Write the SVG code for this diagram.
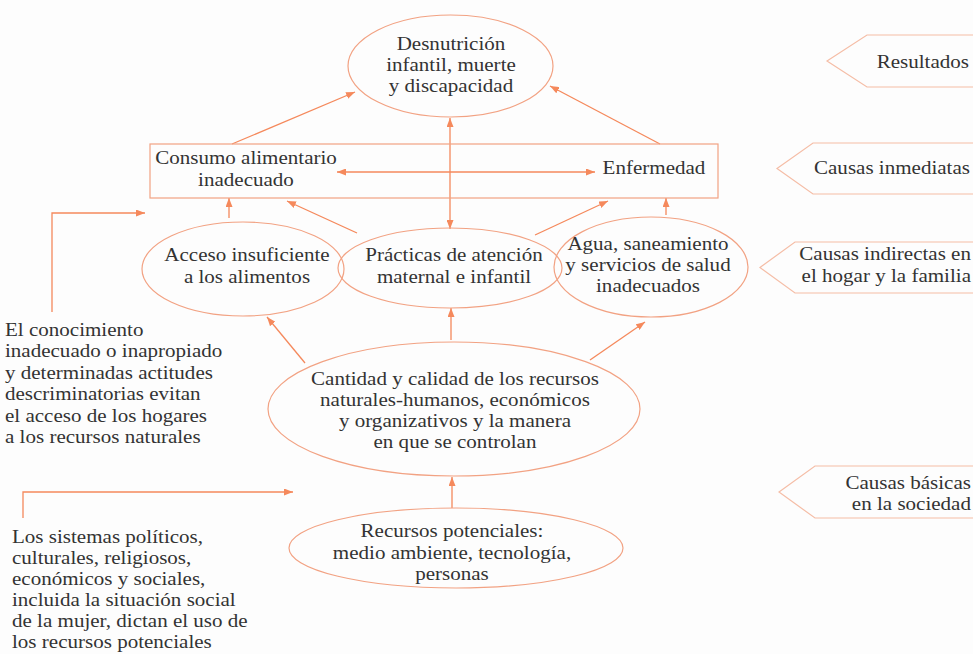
<svg xmlns="http://www.w3.org/2000/svg" width="973" height="654" viewBox="0 0 973 654">
<style>
text{font-family:"Liberation Serif","Times New Roman",serif;font-size:18.8px;fill:#333;transform-box:fill-box}
.c{text-anchor:middle;transform:scaleX(1.12);transform-origin:center}
.l{transform:scaleX(1.12);transform-origin:left center}
.r{text-anchor:end;transform:scaleX(1.12);transform-origin:right center}
.node{fill:none;stroke:#f2a283;stroke-width:1.2}
.tag{fill:none;stroke:#f5bda6;stroke-width:1.2}
.conn{fill:none;stroke:#f5895c;stroke-width:1.3}
</style>
<defs>
<marker id="ah" markerUnits="userSpaceOnUse" markerWidth="9" markerHeight="7" refX="9" refY="3.5" orient="auto-start-reverse">
<path d="M0,0 L9,3.5 L0,7 z" fill="#f5895c"/>
</marker>
</defs>
<rect width="973" height="654" fill="#fdfdfd"/>

<g id="connectors">
<path class="conn" d="M232,144 L355,92" marker-end="url(#ah)"/>
<path class="conn" d="M660,144 L550,86" marker-end="url(#ah)"/>
<path class="conn" d="M450,118 L450,229" marker-start="url(#ah)" marker-end="url(#ah)"/>
<path class="conn" d="M337,172 L595,172" marker-start="url(#ah)" marker-end="url(#ah)"/>
<path class="conn" d="M229,218 L229,198" marker-end="url(#ah)"/>
<path class="conn" d="M357,233 L287,201" marker-end="url(#ah)"/>
<path class="conn" d="M535,235 L608,201" marker-end="url(#ah)"/>
<path class="conn" d="M666,215 L666,198" marker-end="url(#ah)"/>
<path class="conn" d="M305,363 L267,317" marker-end="url(#ah)"/>
<path class="conn" d="M451,340 L451,308" marker-end="url(#ah)"/>
<path class="conn" d="M590,360 L645,322" marker-end="url(#ah)"/>
<path class="conn" d="M452,508 L452,477" marker-end="url(#ah)"/>
<path class="conn" d="M52,312 L52,213 L145,213" marker-end="url(#ah)"/>
<path class="conn" d="M23,518 L23,492 L293,492" marker-end="url(#ah)"/>
</g>

<g id="desnutricion">
<ellipse class="node" cx="450.5" cy="66" rx="102.5" ry="51"/>
<text class="c"><tspan x="451" y="50">Desnutrición</tspan><tspan x="451" y="71">infantil, muerte</tspan><tspan x="451" y="92">y discapacidad</tspan></text>
</g>

<g id="causas-inmediatas-box">
<rect class="node" x="150" y="144" width="568" height="54"/>
<text class="c"><tspan x="246" y="164">Consumo alimentario</tspan><tspan x="246" y="186">inadecuado</tspan></text>
<text class="c" x="654" y="174">Enfermedad</text>
</g>

<g id="acceso">
<ellipse class="node" cx="243" cy="269" rx="101" ry="47"/>
<text class="c"><tspan x="247" y="261">Acceso insuficiente</tspan><tspan x="247" y="283">a los alimentos</tspan></text>
</g>

<g id="practicas">
<ellipse class="node" cx="450" cy="268" rx="112" ry="40"/>
<text class="c"><tspan x="454" y="261">Prácticas de atención</tspan><tspan x="454" y="283">maternal e infantil</tspan></text>
</g>

<g id="agua">
<ellipse class="node" cx="651" cy="267" rx="97" ry="50"/>
<text class="c"><tspan x="648" y="250">Agua, saneamiento</tspan><tspan x="648" y="271">y servicios de salud</tspan><tspan x="648" y="292">inadecuados</tspan></text>
</g>

<g id="cantidad">
<ellipse class="node" cx="454" cy="409" rx="186" ry="67"/>
<text class="c"><tspan x="455" y="385">Cantidad y calidad de los recursos</tspan><tspan x="455" y="406">naturales-humanos, económicos</tspan><tspan x="455" y="427">y organizativos y la manera</tspan><tspan x="455" y="448">en que se controlan</tspan></text>
</g>

<g id="recursos">
<ellipse class="node" cx="456" cy="548" rx="167" ry="40"/>
<text class="c"><tspan x="452" y="537">Recursos potenciales:</tspan><tspan x="452" y="559">medio ambiente, tecnología,</tspan><tspan x="452" y="580">personas</tspan></text>
</g>

<g id="nota-conocimiento">
<text class="l"><tspan x="5" y="336">El conocimiento</tspan><tspan x="5" y="357.5">inadecuado o inapropiado</tspan><tspan x="5" y="379">y determinadas actitudes</tspan><tspan x="5" y="400.5">descriminatorias evitan</tspan><tspan x="5" y="422">el acceso de los hogares</tspan><tspan x="5" y="443.5">a los recursos naturales</tspan></text>
</g>

<g id="nota-sistemas">
<text class="l"><tspan x="12" y="543">Los sistemas políticos,</tspan><tspan x="12" y="564">culturales, religiosos,</tspan><tspan x="12" y="585">económicos y sociales,</tspan><tspan x="12" y="606">incluida la situación social</tspan><tspan x="12" y="627">de la mujer, dictan el uso de</tspan><tspan x="12" y="648">los recursos potenciales</tspan></text>
</g>

<g id="tag-resultados">
<path class="tag" d="M985,35 L867,35 L827,61 L867,87 L985,87"/>
<text class="r" x="969" y="68">Resultados</text>
</g>
<g id="tag-inmediatas">
<path class="tag" d="M985,143 L813,143 L777,168.5 L813,194 L985,194"/>
<text class="r" x="970" y="174">Causas inmediatas</text>
</g>
<g id="tag-indirectas">
<path class="tag" d="M985,242 L795,242 L760,267.5 L795,293 L985,293"/>
<text class="r"><tspan x="971" y="260">Causas indirectas en</tspan><tspan x="971" y="282">el hogar y la familia</tspan></text>
</g>
<g id="tag-basicas">
<path class="tag" d="M985,466 L815,466 L779,492 L815,518 L985,518"/>
<text class="r"><tspan x="971" y="489">Causas básicas</tspan><tspan x="971" y="510">en la sociedad</tspan></text>
</g>
</svg>
